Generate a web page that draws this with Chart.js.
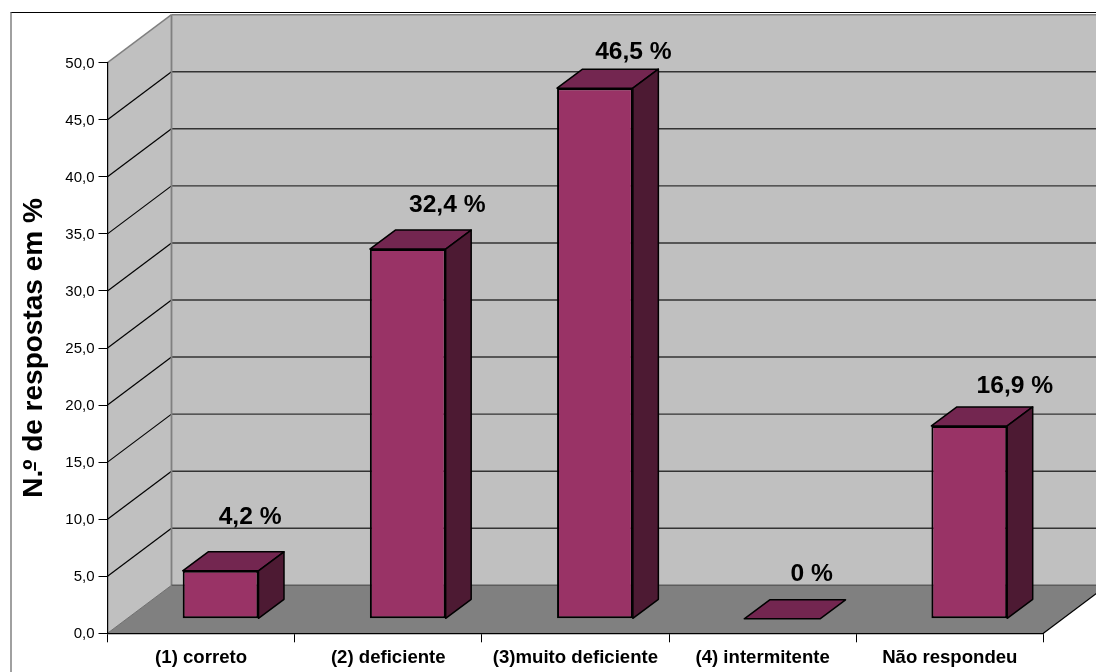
<!DOCTYPE html>
<html>
<head>
<meta charset="utf-8">
<title>N.º de respostas em %</title>
<script src="https://cdn.jsdelivr.net/npm/chart.js@4"></script>
<style>
  html, body { margin: 0; padding: 0; background: #fff; overflow: hidden; }
  canvas { display: block; }
</style>
</head>
<body>
<canvas id="myChart" width="1096" height="672"></canvas>
<script>
const categories = ["(1) correto", "(2) deficiente", "(3)muito deficiente", "(4) intermitente", "Não respondeu"];
const respostas = [4.2, 32.4, 46.5, 0, 16.9];
const yTicks = [0, 5, 10, 15, 20, 25, 30, 35, 40, 45, 50];

const yTitle = "N.º de respostas em %";
const TITLE_FONT = "bold 28px 'Liberation Sans'";

// depth of the box walls and of the bars inside it
const WALL_DX = 64, WALL_DY = -48;
const BAR_SHIFT_X = 19.5, BAR_SHIFT_Y = -14.5;
const BAR_DX = 25.5, BAR_DY = -19;

// value labels sit a little differently above each bar
const labelNudge = [[29.5, -53.5], [39.5, -43.5], [38.5, -35.5], [29.5, -44.5], [45.5, -39.5]];

const comma = (v, d) => (d === undefined ? String(v) : v.toFixed(d)).replace(".", ",");

function poly(ctx, pts, fill, stroke, width) {
  ctx.beginPath();
  pts.forEach((p, i) => (i ? ctx.lineTo(p[0], p[1]) : ctx.moveTo(p[0], p[1])));
  ctx.closePath();
  if (fill) {
    ctx.fillStyle = fill;
    ctx.fill();
  }
  if (stroke) {
    ctx.strokeStyle = stroke;
    ctx.lineWidth = width || 1;
    ctx.lineJoin = "round";
    ctx.stroke();
  }
}

function line(ctx, x1, y1, x2, y2, color, width) {
  ctx.beginPath();
  ctx.moveTo(x1, y1);
  ctx.lineTo(x2, y2);
  ctx.strokeStyle = color;
  ctx.lineWidth = width;
  ctx.stroke();
}

// walls, floor and grid behind the bars
const box3d = {
  id: "box3d",
  beforeDraw(chart) {
    const { ctx, chartArea: a, scales } = chart;
    const dx = WALL_DX, dy = WALL_DY;
    ctx.save();

    ctx.fillStyle = "#fff";
    ctx.fillRect(0, 0, chart.width, chart.height);

    poly(ctx, [[a.left, a.top], [a.left + dx, a.top + dy], [a.left + dx, a.bottom + dy], [a.left, a.bottom]], "#c0c0c0");
    poly(ctx, [[a.left + dx, a.top + dy], [a.right + dx, a.top + dy], [a.right + dx, a.bottom + dy], [a.left + dx, a.bottom + dy]], "#c0c0c0");
    poly(ctx, [[a.left, a.bottom], [a.right, a.bottom], [a.right + dx, a.bottom + dy], [a.left + dx, a.bottom + dy]], "#808080");

    yTicks.forEach((t) => {
      if (t === 0 || t === 50) return;
      const y = scales.y.getPixelForValue(t);
      line(ctx, a.left, y, a.left + dx, y + dy, "#000", 1.2);
      line(ctx, a.left + dx, y + dy, a.right + dx, y + dy, "#333", 1.4);
    });

    // wall edges
    line(ctx, a.left, a.top, a.left + dx, a.top + dy, "#808080", 1.5);
    line(ctx, a.left + dx, a.top + dy, a.right + dx, a.top + dy, "#808080", 1.5);
    line(ctx, a.left + dx, a.top + dy, a.left + dx, a.bottom + dy, "#808080", 1.8);
    line(ctx, a.left, a.bottom, a.left + dx, a.bottom + dy, "#707070", 1);
    line(ctx, a.left + dx, a.bottom + dy, a.right + dx, a.bottom + dy, "#5c5c5c", 1.5);
    line(ctx, a.right, a.bottom, a.right + dx, a.bottom + dy, "#000", 1.2);

    // frame around the whole chart
    line(ctx, 10.5, 12.5, chart.width, 12.5, "#000", 1.2);
    line(ctx, 11, 12.5, 11, chart.height, "#808080", 1.5);

    ctx.restore();
  },
  beforeDatasetDraw(chart) {
    chart.ctx.save();
    chart.ctx.translate(BAR_SHIFT_X, BAR_SHIFT_Y);
  },
  afterDatasetDraw(chart, args) {
    const ctx = chart.ctx;
    // still shifted to the bars' plane here
    args.meta.data.forEach((bar) => {
      const l = bar.x - bar.width / 2, r = bar.x + bar.width / 2;
      const t = bar.y, b = bar.base;
      const dx = BAR_DX, dy = BAR_DY;
      poly(ctx, [[l, t], [l + dx, t + dy], [r + dx, t + dy], [r, t]], "#732650", "#000", 1.5);
      if (b - t > 0.5) {
        poly(ctx, [[r, t], [r + dx, t + dy], [r + dx, b + dy], [r, b]], "#4d1a33", "#000", 1.5);
      }
    });
    ctx.restore();

    ctx.save();
    ctx.font = "bold 24.6px 'Liberation Sans'";
    ctx.fillStyle = "#000";
    ctx.textAlign = "center";
    ctx.textBaseline = "middle";
    args.meta.data.forEach((bar, i) => {
      const x = bar.x + BAR_SHIFT_X + labelNudge[i][0];
      const y = bar.y + BAR_SHIFT_Y + labelNudge[i][1];
      ctx.fillText(comma(respostas[i]) + " %", x, y);
    });
    ctx.restore();
  },
  // the º of the axis title carries a small rule under it
  afterDraw(chart) {
    const { ctx, chartArea: a } = chart;
    ctx.save();
    ctx.font = TITLE_FONT;
    const full = ctx.measureText(yTitle).width;
    const before = ctx.measureText("N.").width;
    const y0 = (a.top + a.bottom) / 2 + full / 2 - before;
    line(ctx, 35, y0 + 1, 35, y0 - 7.5, "#000", 2);
    ctx.restore();
  },
};

const ctx = document.getElementById("myChart");

new Chart(ctx, {
  type: "bar",
  data: {
    labels: categories,
    datasets: [
      {
        label: yTitle,
        data: respostas,
        backgroundColor: "#993366",
        borderColor: "#000",
        borderWidth: 2,
        borderSkipped: false,
        barPercentage: 0.405,
        categoryPercentage: 1,
        clip: false,
      },
    ],
  },
  options: {
    responsive: false,
    animation: false,
    layout: {
      padding: { left: 0, top: 62.7, right: 52.6, bottom: 0 },
    },
    plugins: {
      legend: { display: false },
      tooltip: { enabled: false },
    },
    scales: {
      x: {
        afterFit(scale) {
          scale.height = 38.7;
        },
        border: { color: "#000", width: 1.2 },
        grid: { drawOnChartArea: false, color: "#000", tickLength: 9 },
        ticks: {
          color: "#000",
          padding: 4,
          maxRotation: 0,
          autoSkip: false,
          font: { family: "'Liberation Sans'", size: 18.6, weight: "bold" },
        },
      },
      y: {
        min: 0,
        max: 50,
        afterFit(scale) {
          scale.width = 107.5;
        },
        afterBuildTicks(scale) {
          scale.ticks = yTicks.map((value) => ({ value }));
        },
        border: { color: "#000", width: 1.2 },
        grid: { drawOnChartArea: false, color: "#000", tickLength: 9 },
        title: {
          display: true,
          text: yTitle,
          color: "#000",
          padding: { top: 17, bottom: 0 },
          font: { family: "'Liberation Sans'", size: 28, weight: "bold" },
        },
        ticks: {
          color: "#000",
          padding: 4,
          labelOffset: 1,
          font: { family: "'Liberation Sans'", size: 15 },
          callback: (v) => comma(v, 1),
        },
      },
    },
  },
  plugins: [box3d],
});
</script>
</body>
</html>
